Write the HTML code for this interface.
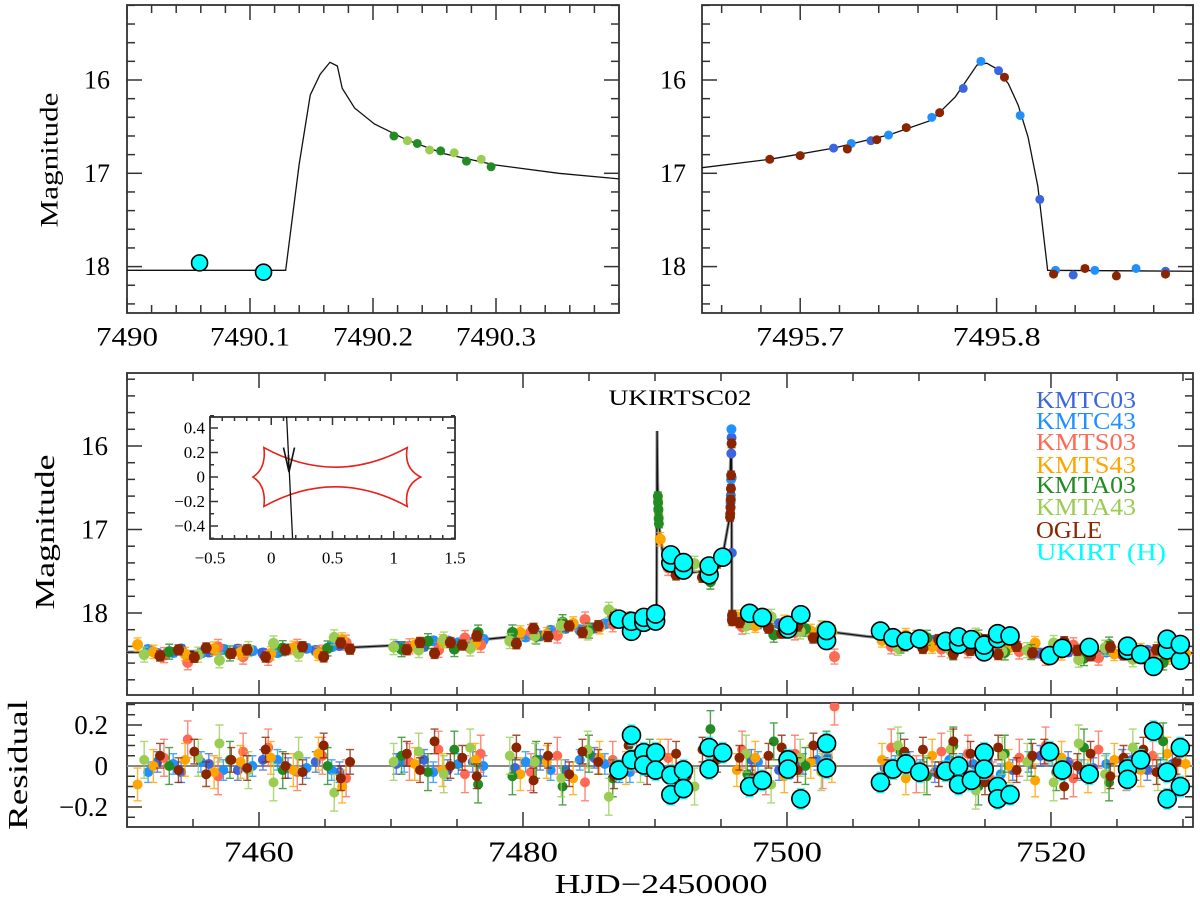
<!DOCTYPE html>
<html><head><meta charset="utf-8"><style>
body{margin:0;background:#fff;}
svg{display:block;font-family:"Liberation Serif",serif;}
</style></head><body>
<svg id="chart" width="1200" height="904" viewBox="0 0 1200 904" xmlns="http://www.w3.org/2000/svg">
<defs>
<clipPath id="cTL"><rect x="127" y="5" width="492" height="308"/></clipPath>
<clipPath id="cTR"><rect x="702" y="5" width="491" height="308"/></clipPath>
<clipPath id="cM"><rect x="127" y="373" width="1066" height="322"/></clipPath>
<clipPath id="cR"><rect x="127" y="703" width="1066" height="124"/></clipPath>
<clipPath id="cI"><rect x="210" y="417" width="245" height="122"/></clipPath>
</defs>
<rect width="1200" height="904" fill="#fff"/>
<g id="gTL"></g>
<g id="gTR"></g>
<g id="gM"></g>
<g id="gR"></g>
<g id="gI"></g>
<text x="50" y="160" font-size="25" text-anchor="middle" dominant-baseline="central" transform="rotate(-90 50 160)" textLength="135" lengthAdjust="spacingAndGlyphs">Magnitude</text>
<text x="45" y="532" font-size="27" text-anchor="middle" dominant-baseline="central" transform="rotate(-90 45 532)" textLength="155" lengthAdjust="spacingAndGlyphs">Magnitude</text>
<text x="18" y="765" font-size="27" text-anchor="middle" dominant-baseline="central" transform="rotate(-90 18 765)" textLength="130" lengthAdjust="spacingAndGlyphs">Residual</text>
<text x="661" y="893" font-size="27" text-anchor="middle" textLength="213" lengthAdjust="spacingAndGlyphs">HJD−2450000</text>
<text x="680" y="405" font-size="22" text-anchor="middle" textLength="143" lengthAdjust="spacingAndGlyphs">UKIRTSC02</text>
<g font-size="24">
<text x="1036" y="408" fill="#3b66e0" textLength="100" lengthAdjust="spacingAndGlyphs">KMTC03</text>
<text x="1036" y="429" fill="#1e90ff" textLength="100" lengthAdjust="spacingAndGlyphs">KMTC43</text>
<text x="1036" y="450" fill="#ff6a55" textLength="100" lengthAdjust="spacingAndGlyphs">KMTS03</text>
<text x="1036" y="473" fill="#ffa500" textLength="100" lengthAdjust="spacingAndGlyphs">KMTS43</text>
<text x="1036" y="493" fill="#228b22" textLength="100" lengthAdjust="spacingAndGlyphs">KMTA03</text>
<text x="1036" y="515" fill="#9acd52" textLength="100" lengthAdjust="spacingAndGlyphs">KMTA43</text>
<text x="1036" y="538" fill="#8b2500" textLength="66" lengthAdjust="spacingAndGlyphs">OGLE</text>
<text x="1036" y="560" fill="#00ffff" textLength="130" lengthAdjust="spacingAndGlyphs">UKIRT (H)</text>
</g>
</svg>
<script>
// ---------- data ----------
const tlModelT=[7490,7490.129,7490.140,7490.149,7490.157,7490.165,7490.171,7490.175,7490.185,7490.201,7490.227,7490.258,7490.299,7490.351,7490.4];
const tlModelM=[18.04,18.04,16.90,16.16,15.94,15.81,15.85,16.09,16.30,16.47,16.64,16.79,16.91,17.0,17.06];
const tlUkirtT=[7490.059,7490.111];
const tlUkirtM=[17.96,18.06];
const tlA03T=[7490.217,7490.236,7490.255,7490.276,7490.296];
const tlA03M=[16.60,16.68,16.76,16.87,16.93];
const tlA43T=[7490.228,7490.246,7490.266,7490.288];
const tlA43M=[16.65,16.75,16.78,16.85];
const trModelT=[7495.65,7495.6845,7495.717,7495.745,7495.767,7495.779,7495.790,7495.795,7495.800,7495.806,7495.811,7495.816,7495.821,7495.826,7495.9];
const trModelM=[16.94,16.85,16.73,16.59,16.43,16.18,15.84,15.82,15.88,16.04,16.27,16.61,17.14,18.04,18.05];
const trC03T=[7495.717,7495.736,7495.783,7495.801,7495.822,7495.839,7495.886];
const trC03M=[16.73,16.65,16.09,15.90,17.28,18.09,18.05];
const trC43T=[7495.726,7495.745,7495.767,7495.792,7495.812,7495.830,7495.850,7495.871];
const trC43M=[16.68,16.59,16.40,15.80,16.38,18.04,18.04,18.02];
const trOgleT=[7495.6845,7495.700,7495.724,7495.739,7495.754,7495.771,7495.804,7495.829,7495.845,7495.861,7495.886];
const trOgleM=[16.85,16.81,16.74,16.64,16.51,16.35,15.97,18.08,18.02,18.10,18.08];
const mainModelT=[7450,7455,7460,7466,7470,7475,7480,7483,7485,7487,7489,7490.12,7490.16,7490.2,7490.3,7490.6,7491,7491.5,7492.5,7493.5,7494.5,7495.2,7495.6,7495.79,7495.826,7497,7500,7503,7506,7510,7515,7520,7525,7530.8];
const mainModelM=[18.47,18.46,18.45,18.42,18.39,18.35,18.27,18.21,18.15,18.1,18.05,18.03,15.82,16.45,16.95,17.3,17.42,17.48,17.52,17.5,17.42,17.25,16.9,15.82,18.05,18.1,18.16,18.22,18.28,18.34,18.4,18.44,18.46,18.48];
const kc03T=[7452.3,7454.1,7456.2,7458.4,7460.3,7462.2,7464.3,7466.1,7470.4,7472.5,7474.3,7476.2,7479.4,7481.3,7483.2,7485.4,7487.3,7489.2,7497.3,7499.4,7501.2,7503.1,7507.4,7509.3,7511.2,7513.3,7515.2,7517.1,7519.2,7521.3,7523.2,7525.4,7527.3,7529.2];
const kc03R=[0.02,-0.03,0.01,-0.02,0.03,-0.01,0.02,-0.03,0.01,0.03,-0.02,0.02,-0.01,0.03,-0.02,0.04,-0.03,0.02,0.03,-0.02,0.01,0.04,-0.01,0.02,-0.03,0.01,0.03,-0.02,0.05,0.02,-0.01,0.03,-0.02,0.01];
const kc43T=[7451.6,7453.5,7455.6,7457.3,7459.5,7461.4,7463.6,7465.5,7471.0,7473.2,7475.1,7477.0,7480.2,7482.1,7484.3,7486.2,7488.1,7497.8,7500.2,7502.3,7508.2,7510.1,7512.3,7514.1,7516.2,7518.3,7520.1,7522.3,7524.2,7526.1,7528.3];
const kc43R=[-0.03,0.01,0.02,-0.02,0.0,0.03,-0.01,-0.02,0.02,-0.03,0.01,0.0,0.02,-0.02,0.03,0.01,-0.03,0.02,-0.01,0.03,0.0,-0.02,0.03,0.01,-0.04,0.02,0.05,-0.02,0.01,0.03,-0.01];
const ks03T=[7452.8,7454.6,7456.9,7458.8,7460.7,7462.9,7464.8,7466.6,7471.4,7473.6,7475.6,7476.8,7480.6,7482.6,7484.7,7486.8,7488.6,7491.0,7496.6,7498.4,7500.6,7502.7,7503.6,7507.9,7509.8,7511.7,7513.7,7515.6,7517.6,7519.6,7521.7,7523.6,7525.7,7527.7,7529.6];
const ks03R=[0.04,0.13,-0.05,0.07,0.09,-0.03,0.05,-0.06,0.02,0.08,-0.04,0.06,-0.03,0.05,-0.08,0.03,0.06,0.04,0.08,-0.05,0.06,-0.02,0.29,0.09,-0.04,0.07,0.06,-0.07,0.04,0.1,-0.06,0.08,-0.03,0.05,0.02];
const ks43T=[7450.8,7452.0,7454.4,7456.6,7458.6,7460.9,7462.6,7464.5,7466.3,7471.8,7473.9,7476.4,7479.8,7481.8,7483.8,7485.8,7487.8,7490.4,7491.3,7496.2,7497.6,7499.8,7501.8,7503.4,7507.2,7509.0,7511.0,7512.8,7514.8,7516.8,7518.8,7520.8,7522.8,7524.8,7526.8,7528.8,7530.2];
const ks43R=[-0.09,0.0,0.03,-0.03,0.02,0.04,-0.02,0.06,-0.1,0.01,-0.02,0.03,-0.04,0.02,-0.06,0.04,-0.01,0.05,-0.03,-0.02,0.04,-0.05,0.02,0.0,0.03,-0.06,0.05,-0.04,0.02,0.0,-0.07,0.04,-0.05,0.03,-0.02,0.06,0.01];
const ka03T=[7453.2,7457.8,7461.8,7465.2,7470.8,7472.8,7474.8,7476.6,7479.2,7481.0,7483.0,7485.0,7486.8,7489.6,7494.2,7497.0,7499.0,7501.4,7503.0,7508.6,7510.6,7512.6,7514.5,7516.5,7518.5,7520.4,7522.5,7524.4,7526.4,7528.5];
const ka03R=[0.0,0.03,-0.02,0.0,0.05,-0.03,0.08,-0.09,-0.05,0.03,-0.1,0.06,-0.06,0.04,0.18,-0.04,0.12,0.0,0.08,0.07,-0.05,0.1,-0.1,0.06,0.04,-0.03,0.09,-0.08,0.02,0.12];
const ka43T=[7451.3,7455.4,7457.0,7459.2,7461.1,7463.0,7465.7,7470.2,7472.1,7474.0,7476.0,7479.0,7480.9,7482.9,7484.9,7486.5,7488.9,7493.0,7496.9,7498.8,7501.0,7502.6,7508.4,7510.4,7512.4,7514.3,7516.3,7518.2,7520.2,7522.1,7524.1,7526.2,7528.1];
const ka43R=[0.03,0.04,0.11,-0.02,-0.08,0.05,-0.13,0.02,0.07,-0.04,0.09,0.05,0.02,-0.06,0.08,-0.15,0.01,-0.1,0.06,-0.09,0.04,-0.03,0.1,-0.04,0.08,-0.12,0.05,0.02,-0.08,0.11,-0.04,0.09,-0.03];
const ogleT=[7452.5,7453.9,7455.1,7456.0,7457.9,7459.1,7460.5,7462.0,7463.3,7464.9,7466.2,7466.9,7471.2,7472.2,7473.3,7474.5,7475.4,7476.5,7479.5,7480.8,7481.9,7483.5,7484.5,7485.7,7486.9,7488.0,7489.4,7491.6,7492.4,7493.6,7494.7,7496.4,7497.4,7498.6,7499.6,7500.8,7502.0,7507.6,7508.9,7510.3,7511.5,7512.6,7513.9,7515.0,7516.0,7517.4,7518.6,7519.5,7521.0,7522.0,7523.0,7524.5,7525.5,7527.0,7528.0,7529.5];
const ogleR=[0.05,-0.02,0.07,-0.04,0.03,-0.01,0.08,0.0,-0.03,0.1,-0.06,0.02,0.06,-0.02,0.12,0.0,0.04,-0.05,0.09,-0.07,0.05,-0.04,0.07,0.02,-0.05,0.1,-0.03,0.06,-0.05,0.08,0.03,0.04,-0.06,0.05,0.09,-0.02,0.1,-0.03,0.07,0.08,-0.04,0.12,0.06,-0.08,0.09,-0.02,0.05,0.07,-0.1,0.0,0.06,-0.05,0.04,0.08,-0.03,0.02];
const ukT=[7487.26,7488.22,7488.22,7489.15,7489.15,7490.05,7490.05,7491.2,7491.2,7492.16,7492.16,7494.1,7494.1,7495.13,7497.17,7498.13,7500.08,7500.08,7501.05,7503,7503,7507.08,7508.03,7509.02,7510.05,7512.03,7513,7513,7513.97,7514.94,7514.94,7515.96,7515.96,7516.9,7519.9,7520.86,7522.9,7525.8,7525.8,7526.8,7527.77,7528.8,7528.8,7529.8,7529.8];
const ukR=[-0.02,0.15,0.03,0.065,0.005,0.065,-0.02,-0.045,-0.14,-0.02,-0.11,0.09,-0.015,0.065,-0.1,-0.07,0.03,-0.015,-0.16,0.11,-0.01,-0.08,-0.015,0.01,-0.03,-0.025,0,-0.09,-0.07,0.065,-0.015,-0.1,-0.16,-0.14,0.07,-0.02,-0.04,-0.015,-0.065,0.03,0.17,-0.03,-0.16,0.09,-0.1];
const mainYTicks=[16,17,18];
const resYTicks=[0.2,0,-0.2];
const mainXTicks=[7460,7480,7500,7520];
const tlXTicks=[7490,7490.1,7490.2,7490.3];
const trXTicks=[7495.7,7495.8];
const topYTicks=[16,17,18];
const insetXTicks=[-0.5,0,0.5,1,1.5];
const insetYTicks=[0.4,0.2,0,-0.2,-0.4];

// ---------- helpers ----------
const NS='http://www.w3.org/2000/svg';
function mk(tag,attrs,parent){const e=document.createElementNS(NS,tag);for(const k in attrs)e.setAttribute(k,attrs[k]);parent.appendChild(e);return e;}
function lin(d0,d1,r0,r1){return v=>r0+(v-d0)*(r1-r0)/(d1-d0);}
function interp(T,M,t){if(t<=T[0])return M[0];for(let i=1;i<T.length;i++){if(t<=T[i]){const f=(t-T[i-1])/(T[i]-T[i-1]);return M[i-1]+f*(M[i]-M[i-1]);}}return M[M.length-1];}

const P={
 TL:{l:127,r:619,t:5,b:313,X:lin(7490,7490.4,127,619),Y:lin(16,18,80,266.6),xd:[7490,7490.4],yd:[15.2,18.5],xmin:0.02,xmaj:0.1,ymin:0.2,ymaj:1,g:'gTL',clip:'cTL'},
 TR:{l:702,r:1193,t:5,b:313,X:lin(7495.65,7495.9,702,1193),Y:lin(16,18,80,266.6),xd:[7495.65,7495.9],yd:[15.2,18.5],xmin:0.02,xmaj:0.1,ymin:0.2,ymaj:1,g:'gTR',clip:'cTR'},
 M:{l:127,r:1193,t:373,b:695,X:lin(7450,7530.76,127,1193),Y:lin(16,18,446,613),xd:[7450,7530.76],yd:[15.13,18.98],xmin:5,xmaj:20,ymin:0.2,ymaj:1,g:'gM',clip:'cM'},
 R:{l:127,r:1193,t:703,b:827,X:lin(7450,7530.76,127,1193),Y:lin(0,0.2,766,725),xd:[7450,7530.76],yd:[-0.298,0.307],xmin:5,xmaj:20,ymin:0.05,ymaj:0.2,g:'gR',clip:'cR'},
 I:{l:210,r:455,t:417,b:539,X:lin(-0.5,1.5,210,455),Y:lin(0,0.4,477,428),xd:[-0.5,1.5],yd:[-0.5,0.5],xmin:0.1,xmaj:0.5,ymin:0.1,ymaj:0.2,g:'gI',clip:'cI',Lmaj:8,Lmin:4}
};

function frame(p){
 const g=document.getElementById(p.g);
 const Lmaj=p.Lmaj||15, Lmin=p.Lmin||8;
 const isMaj=(v,s)=>Math.abs(v/s-Math.round(v/s))<1e-4;
 for(let i=Math.ceil(p.xd[0]/p.xmin-1e-6);i*p.xmin<=p.xd[1]+1e-9;i++){
  const v=i*p.xmin, x=p.X(v), L=isMaj(v,p.xmaj)?Lmaj:Lmin;
  const a=mk('line',{x1:x,y1:p.b,x2:x,y2:p.b-L,stroke:'#333','stroke-width':1.5},g);
  
  
  const b=mk('line',{x1:x,y1:p.t,x2:x,y2:p.t+L,stroke:'#333','stroke-width':1.5},g);
  
  
 }
 for(let i=Math.ceil(p.yd[0]/p.ymin-1e-6);i*p.ymin<=p.yd[1]+1e-9;i++){
  const v=i*p.ymin, y=p.Y(v), L=isMaj(v,p.ymaj)?Lmaj:Lmin;
  const a=mk('line',{x1:p.l,y1:y,x2:p.l+L,y2:y,stroke:'#333','stroke-width':1.5},g);
  
  
  const b=mk('line',{x1:p.r,y1:y,x2:p.r-L,y2:y,stroke:'#333','stroke-width':1.5},g);
  
  
 }
 const f=mk('rect',{x:p.l,y:p.t,width:p.r-p.l,height:p.b-p.t,fill:'none',stroke:'#333','stroke-width':1.8},g);
 
 
}
Object.values(P).forEach(frame);

function label(g,x,y,txt,anchor,size,len){
 const t=mk('text',{x:x,y:y,'font-size':size,'text-anchor':anchor,'dominant-baseline':'central'},g);
 if(len){t.setAttribute('textLength',len);t.setAttribute('lengthAdjust','spacingAndGlyphs');}
 t.textContent=txt;
 
 
}
const svgRoot=document.getElementById('chart');
topYTicks.forEach(v=>label(svgRoot,110,P.TL.Y(v),String(v),'end',26));
topYTicks.forEach(v=>label(svgRoot,686,P.TR.Y(v),String(v),'end',26));
tlXTicks.forEach(v=>label(svgRoot,P.TL.X(v),337,String(v),'middle',26,String(v).length>4?80:62));
trXTicks.forEach(v=>label(svgRoot,P.TR.X(v),337,String(v),'middle',26,88));
mainYTicks.forEach(v=>label(svgRoot,108,P.M.Y(v),String(v),'end',27));
resYTicks.forEach(v=>label(svgRoot,108,P.R.Y(v),v<0?'−'+String(-v):String(v),'end',27));
mainXTicks.forEach(v=>label(svgRoot,P.M.X(v),853,String(v),'middle',28,70));
insetXTicks.forEach(v=>label(svgRoot,P.I.X(v),558,v<0?'−'+String(-v):String(v),'middle',17));
insetYTicks.forEach(v=>label(svgRoot,205,P.I.Y(v),v<0?'−'+String(-v):String(v),'end',17));

function clipG(p,name){const g=mk('g',{'clip-path':'url(#'+p.clip+')'},document.getElementById(p.g));return g;}

function modelLine(p,T,M,halo){
 const g=clipG(p,'model-curve-group');
 const d=T.map((t,i)=>(i?'L':'M')+p.X(t).toFixed(2)+' '+p.Y(M[i]).toFixed(2)).join(' ');
 if(halo){const h=mk('path',{d:d,fill:'none',stroke:'#999','stroke-width':3.2},g);
  
  }
 const l=mk('path',{d:d,fill:'none',stroke:'#111','stroke-width':1.3},g);
 
 
}

function pts(p,T,M,color,r,err,stroke){
 const g=clipG(p,'data-series');
 T.forEach((t,i)=>{
  const x=p.X(t), y=p.Y(M[i]);
  if(err){
   const y1=p.Y(M[i]-err), y2=p.Y(M[i]+err);
   const eb=mk('path',{d:`M${x} ${y1}L${x} ${y2}M${x-4} ${y1}L${x+4} ${y1}M${x-4} ${y2}L${x+4} ${y2}`,stroke:color,'stroke-width':1.4,fill:'none',opacity:0.8},g);
   
   
  }
  const c=mk('circle',{cx:x,cy:y,r:r,fill:color},g);
  if(stroke){c.setAttribute('stroke','#000');c.setAttribute('stroke-width',1.6);}
  
  
 });
}

// top-left zoom panel
modelLine(P.TL,tlModelT,tlModelM,false);
pts(P.TL,tlA43T,tlA43M,'#9acd52',4.5,0);
pts(P.TL,tlA03T,tlA03M,'#228b22',4.5,0);
pts(P.TL,tlUkirtT,tlUkirtM,'#00ffff',8,0,true);
// top-right zoom panel
modelLine(P.TR,trModelT,trModelM,false);
pts(P.TR,trC03T,trC03M,'#3b66e0',4.5,0);
pts(P.TR,trC43T,trC43M,'#1e90ff',4.5,0);
pts(P.TR,trOgleT,trOgleM,'#8b2500',4.5,0.02);

// main + residual
const sets=[
 [kc03T,kc03R,'#3b66e0',0.05],[kc43T,kc43R,'#1e90ff',0.05],[ks03T,ks03R,'#ff6a55',0.09],
 [ks43T,ks43R,'#ffa500',0.08],[ka03T,ka03R,'#228b22',0.09],[ka43T,ka43R,'#9acd52',0.09],
 [ogleT,ogleR,'#8b2500',0.06]
];
modelLine(P.M,mainModelT,mainModelM,true);
const zl=mk('line',{x1:127,y1:P.R.Y(0),x2:1193,y2:P.R.Y(0),stroke:'#888','stroke-width':2},document.getElementById('gR'));


sets.forEach(s=>{
 const T=s[0],R=s[1];
 pts(P.M,T,T.map((t,i)=>interp(mainModelT,mainModelM,t)+R[i]),s[2],5.5,s[3]);
 pts(P.R,T,R,s[2],5,s[3]);
});
pts(P.M,tlA43T,tlA43M,'#9acd52',5,0.05);
pts(P.M,tlA03T,tlA03M,'#228b22',5,0.05);
pts(P.M,trC03T,trC03M,'#3b66e0',5,0);
pts(P.M,trC43T,trC43M,'#1e90ff',5,0);
pts(P.M,trOgleT,trOgleM,'#8b2500',5,0.05);
pts(P.M,ukT,ukT.map((t,i)=>interp(mainModelT,mainModelM,t)+ukR[i]),'#00ffff',9,0.03,true);
pts(P.R,ukT,ukR,'#00ffff',9,0.05,true);

// inset: caustic + trajectory
const I=P.I, gi=clipG(I,'caustic-group');
const cX=[-0.15,-0.06,1.11,1.22,1.11,-0.06];
const cY=[0,0.24,0.24,0,-0.24,-0.24];
const ctlX=[-0.04,0.52,1.08,1.08,0.52,-0.04];
const ctlY=[0.07,-0.08,0.07,-0.07,0.08,-0.07];
let cd='M'+I.X(cX[0])+' '+I.Y(cY[0]);
for(let i=0;i<6;i++){const j=(i+1)%6;cd+=` Q${I.X(ctlX[i])} ${I.Y(ctlY[i])} ${I.X(cX[j])} ${I.Y(cY[j])}`;}
const cp=mk('path',{d:cd+'Z',fill:'none',stroke:'#e8211a','stroke-width':1.6},gi);


const trajX=[0.125,0.174], trajY=[0.5,-0.5];
const tr=mk('line',{x1:I.X(trajX[0]),y1:I.Y(trajY[0]),x2:I.X(trajX[1]),y2:I.Y(trajY[1]),stroke:'#111','stroke-width':1.3},gi);


const ah=mk('path',{d:`M${I.X(0.10)} ${I.Y(0.24)} L${I.X(0.145)} ${I.Y(0.04)} L${I.X(0.19)} ${I.Y(0.24)} M${I.X(0.145)} ${I.Y(0.04)} L${I.X(0.14)} ${I.Y(0.18)}`,stroke:'#111','stroke-width':1.6,fill:'none'},gi);


</script>
</body></html>
